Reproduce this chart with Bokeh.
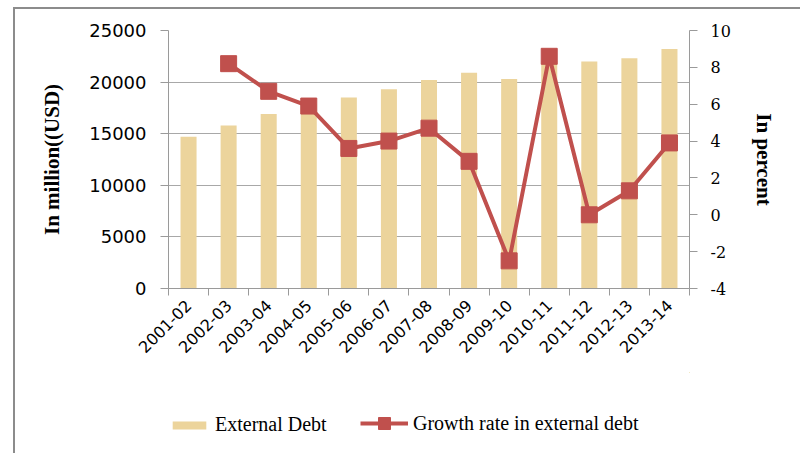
import numpy as np
from bokeh.plotting import figure
from bokeh.layouts import column
from bokeh.models import (Range1d, LinearAxis, FixedTicker, Legend, LegendItem,
                          ColumnDataSource, InlineStyleSheet)
from bokeh.embed import file_html
from bokeh.resources import INLINE

years = ["2001-02", "2002-03", "2003-04", "2004-05", "2005-06", "2006-07", "2007-08",
         "2008-09", "2009-10", "2010-11", "2011-12", "2012-13", "2013-14"]
external_debt = [14700, 15800, 16900, 17900, 18500, 19300, 20200, 20900, 20300,
                 22050, 22000, 22300, 23200]
growth_rate = [np.nan, 8.2, 6.7, 5.9, 3.6, 4.0, 4.7, 2.9, -2.5, 8.6, 0.0, 1.3, 3.9]
left_ticks = [0, 5000, 10000, 15000, 20000, 25000]
right_ticks = [-4, -2, 0, 2, 4, 6, 8, 10]

n = len(years)
xc = np.arange(n) + 0.5
bounds = list(np.arange(n + 1).astype(float))

src = ColumnDataSource(dict(x=xc, debt=external_debt, growth=growth_rate))

GRAY = "#9a9a9a"
BAR = "#ECD49C"
RED = "#C0504D"

p = figure(width=784, height=372, x_range=Range1d(0, n), y_range=Range1d(0, 25000),
           output_backend="svg", toolbar_location=None,
           min_border_left=168, min_border_right=95, min_border_top=30,
           min_border_bottom=84, y_axis_location=None, x_axis_location=None)
p.outline_line_color = None
p.background_fill_color = "white"
p.border_fill_color = "white"
p.extra_y_ranges = {"pct": Range1d(-4, 10)}

bar_style = dict(fill_color=BAR, line_color=None)
line_style = dict(line_color=RED, line_width=4)
pt_style = dict(marker="square", size=16, fill_color=RED, line_color=RED)

p.vbar(x="x", top="debt", width=0.4, source=src, **bar_style)
p.line(x="x", y="growth", source=src, y_range_name="pct", **line_style)
p.scatter(x="x", y="growth", source=src, y_range_name="pct", **pt_style)

# x axis
xa = LinearAxis(ticker=FixedTicker(ticks=list(xc), minor_ticks=bounds))
xa.major_label_overrides = {float(v): years[i] for i, v in enumerate(xc)}
xa.major_tick_line_color = None
xa.minor_tick_line_color = GRAY
xa.minor_tick_out = 7
xa.minor_tick_in = 0
xa.axis_line_color = GRAY
xa.major_label_orientation = np.pi / 4
xa.major_label_text_font = "DejaVu Sans"
xa.major_label_text_font_size = "16px"
xa.major_label_text_color = "black"
xa.major_label_standoff = 7
p.add_layout(xa, "below")

# left axis
ya = LinearAxis(ticker=FixedTicker(ticks=left_ticks, minor_ticks=[]),
                axis_label="In million((USD)")
ya.axis_line_color = GRAY
ya.major_tick_line_color = GRAY
ya.major_tick_out = 8
ya.major_tick_in = 0
ya.minor_tick_line_color = None
ya.major_label_text_font = "DejaVu Sans"
ya.major_label_text_font_size = "18px"
ya.major_label_text_color = "black"
ya.major_label_standoff = 14
ya.axis_label_text_font = "Liberation Serif"
ya.axis_label_text_font_style = "bold"
ya.axis_label_text_font_size = "21px"
ya.axis_label_text_color = "black"
ya.axis_label_standoff = 22
p.add_layout(ya, "left")

# right axis
ra = LinearAxis(y_range_name="pct", ticker=FixedTicker(ticks=right_ticks, minor_ticks=[]),
                axis_label="In percent")
ra.major_label_overrides = {t: str(t) for t in right_ticks}
ra.axis_line_color = GRAY
ra.major_tick_line_color = GRAY
ra.major_tick_out = 8
ra.major_tick_in = 0
ra.minor_tick_line_color = None
ra.major_label_text_font = "DejaVu Serif"
ra.major_label_text_font_size = "16px"
ra.major_label_text_color = "black"
ra.major_label_standoff = 13
ra.axis_label_text_font = "Liberation Serif"
ra.axis_label_text_font_style = "bold"
ra.axis_label_text_font_size = "21px"
ra.axis_label_text_color = "black"
ra.axis_label_standoff = 18
p.add_layout(ra, "right")

p.xgrid.visible = False
p.ygrid.ticker = FixedTicker(ticks=left_ticks)
p.ygrid.grid_line_color = "#a8a8a8"
p.ygrid.grid_line_width = 1

# legend strip (its ranges show none of the data; it only carries the legend)
q = figure(width=784, height=65, x_range=Range1d(-100, -99), y_range=Range1d(-100, -99),
           output_backend="svg", toolbar_location=None, min_border=0,
           x_axis_location=None, y_axis_location=None)
q.outline_line_color = None
q.xgrid.visible = False
q.ygrid.visible = False
lb = q.vbar(x="x", top="debt", width=0.4, source=src, **bar_style)
ll = q.line(x="x", y="growth", source=src, **line_style)
lp = q.scatter(x="x", y="growth", source=src, **pt_style)

common = dict(orientation="horizontal", padding=0, margin=0, label_standoff=5,
              label_text_font="Liberation Serif", label_text_font_size="20px",
              label_text_color="black", border_line_color=None, background_fill_alpha=0)

legend1 = Legend(items=[LegendItem(label="External Debt", renderers=[lb])],
                 location=(0, 1), glyph_width=42, glyph_height=10, **common)
legend2 = Legend(items=[LegendItem(label="Growth rate in external debt", renderers=[ll, lp])],
                 location=(192, -1), glyph_width=48, glyph_height=30, **common)
q.add_layout(legend1, "center")
q.add_layout(legend2, "center")

p.stylesheets = [InlineStyleSheet(css="""
:host::after {
  content: ''; position: absolute; left: 13px; top: 7px; right: -20px; bottom: -200px;
  border-left: 2px solid #8c8c8c; border-top: 2px solid #8c8c8c;
  pointer-events: none; z-index: 10;
}
""")]

layout = column(p, q, spacing=0)
open("out.html", "w").write(file_html(layout, INLINE))
